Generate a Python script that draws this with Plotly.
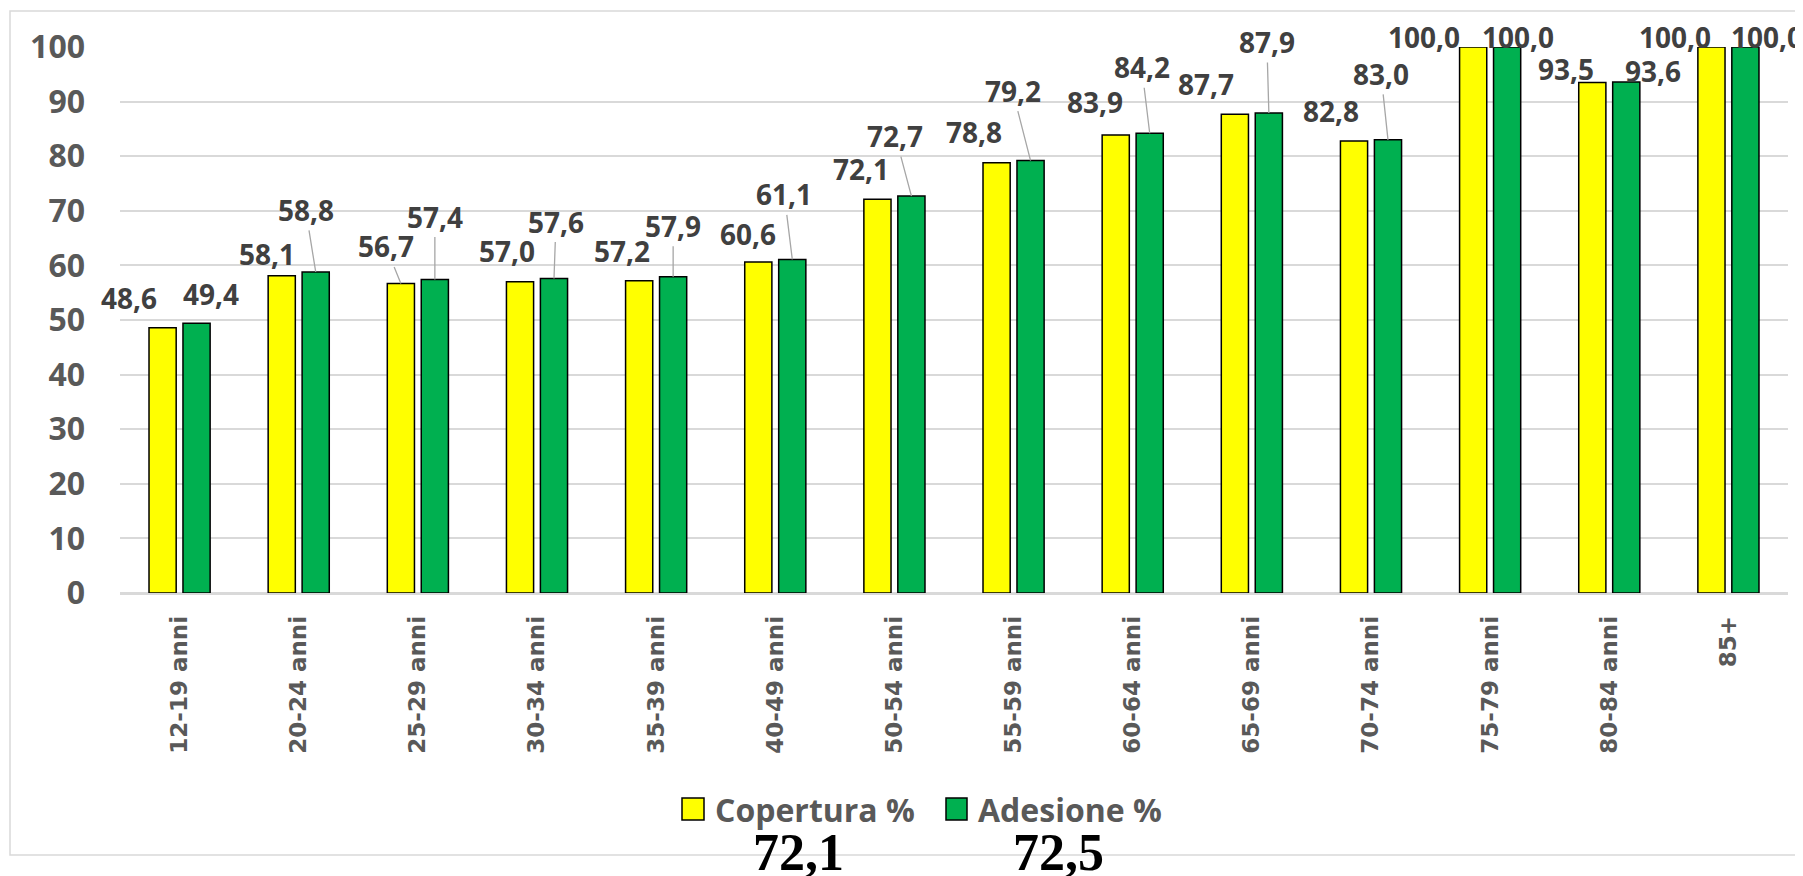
import plotly.graph_objects as go

# fasce d'età e valori (%)
fasce = ["12-19 anni", "20-24 anni", "25-29 anni", "30-34 anni", "35-39 anni",
         "40-49 anni", "50-54 anni", "55-59 anni", "60-64 anni", "65-69 anni",
         "70-74 anni", "75-79 anni", "80-84 anni", "85+"]
copertura = [48.6, 58.1, 56.7, 57.0, 57.2, 60.6, 72.1, 78.8, 83.9, 87.7, 82.8, 100.0, 93.5, 100.0]
adesione = [49.4, 58.8, 57.4, 57.6, 57.9, 61.1, 72.7, 79.2, 84.2, 87.9, 83.0, 100.0, 93.6, 100.0]
totale_copertura = 72.1
totale_adesione = 72.5

# label placement as in the excel chart: (dx, dy, leader line)
pos_copertura = [(-34, -30, False), (-15, -22, False), (-15, -37, True), (-13, -31, False),
                 (-17, -30, False), (-10, -28, False), (-16, -30, False), (-23, -31, False),
                 (-21, -33, False), (-29, -30, False), (-23, -30, False), (-49, -10, False),
                 (-26, -13, False), (-36, -10, False)]
pos_adesione = [(14, -29, False), (-10, -62, True), (0, -63, True), (2, -57, True),
                (0, -51, True), (-8, -65, True), (-16, -60, True), (-18, -70, True),
                (-8, -66, True), (-2, -71, True), (-7, -66, True), (11, -10, False),
                (27, -11, False), (22, -10, False)]

# the page body has an 8px margin, so the figure is a bit smaller than the window
OFF = 8
W, H = 1803 - OFF, 876 - OFF
L, R, T, B = 112, 15, 39, 283
pw, ph = W - L - R, H - T - B


def px(x):
    # page x -> paper x
    return (x - OFF - L) / pw


def py(y):
    # page y -> paper y
    return (H - B - (y - OFF)) / ph


def fmt(v):
    return "{:.1f}".format(v).replace(".", ",")


label_font = dict(family="Open Sans", size=28, color="#404040", weight="bold")

fig = go.Figure()
fig.add_trace(go.Bar(x=fasce, y=copertura, name="Copertura %",
                     marker=dict(color="#FFFF00", line=dict(color="#000000", width=1.5))))
fig.add_trace(go.Bar(x=fasce, y=adesione, name="Adesione %",
                     marker=dict(color="#00B050", line=dict(color="#000000", width=1.5))))

annotations = []
for values, positions, shift in [(copertura, pos_copertura, -17), (adesione, pos_adesione, 17)]:
    for cat, v, (dx, dy, line) in zip(fasce, values, positions):
        if line:
            annotations.append(dict(x=cat, y=v, xshift=shift, text=fmt(v), font=label_font,
                                    showarrow=True, arrowhead=0, arrowwidth=1.3,
                                    arrowcolor="#A6A6A6", ax=dx, ay=dy, standoff=0))
        else:
            annotations.append(dict(x=cat, y=v, xshift=shift + dx, yshift=-dy, text=fmt(v),
                                    font=label_font, showarrow=False,
                                    xanchor="center", yanchor="middle"))

legend_font = dict(family="Open Sans", size=32, color="#595959", weight="bold")
total_font = dict(family="Liberation Serif", size=52, color="#000000", weight="bold")
annotations += [
    dict(xref="paper", yref="paper", x=px(713), y=py(809), text="Copertura %",
         font=legend_font, showarrow=False, xanchor="left", yanchor="middle"),
    dict(xref="paper", yref="paper", x=px(976), y=py(809), text="Adesione %",
         font=legend_font, showarrow=False, xanchor="left", yanchor="middle"),
    dict(xref="paper", yref="paper", x=px(798), y=py(852), text=fmt(totale_copertura),
         font=total_font, showarrow=False, xanchor="center", yanchor="middle"),
    dict(xref="paper", yref="paper", x=px(1058), y=py(852), text=fmt(totale_adesione),
         font=total_font, showarrow=False, xanchor="center", yanchor="middle"),
]

shapes = [
    # chart border
    dict(type="rect", xref="paper", yref="paper", x0=px(10), x1=px(1830), y0=py(855), y1=py(11),
         line=dict(color="#D9D9D9", width=1.5), layer="below"),
    # legend keys
    dict(type="rect", xref="paper", yref="paper", x0=px(682), x1=px(704), y0=py(820), y1=py(798),
         fillcolor="#FFFF00", line=dict(color="#000000", width=1.5)),
    dict(type="rect", xref="paper", yref="paper", x0=px(946), x1=px(967), y0=py(820), y1=py(798),
         fillcolor="#00B050", line=dict(color="#000000", width=1.5)),
]

fig.update_layout(
    width=W, height=H, autosize=False,
    margin=dict(l=L, r=R, t=T, b=B),
    plot_bgcolor="white", paper_bgcolor="white",
    barmode="group", bargap=0.43, bargroupgap=0.2,
    showlegend=False,
    annotations=annotations,
    shapes=shapes,
)
fig.update_yaxes(range=[0, 100], dtick=10, showgrid=True, gridcolor="#D9D9D9", gridwidth=1.5,
                 zeroline=True, zerolinecolor="#D9D9D9", zerolinewidth=1.5,
                 ticks="", ticklabelstandoff=34, automargin=False,
                 tickfont=dict(family="Open Sans", size=32, color="#595959", weight="bold"))
fig.update_xaxes(range=[-0.5, len(fasce) - 0.5], tickangle=-90, ticks="",
                 showline=True, linecolor="#D9D9D9", linewidth=1.5,
                 ticklabelstandoff=12, automargin=False,
                 tickfont=dict(family="DejaVu Sans", size=23, color="#595959", weight="bold"))

fig.write_html("out.html")
